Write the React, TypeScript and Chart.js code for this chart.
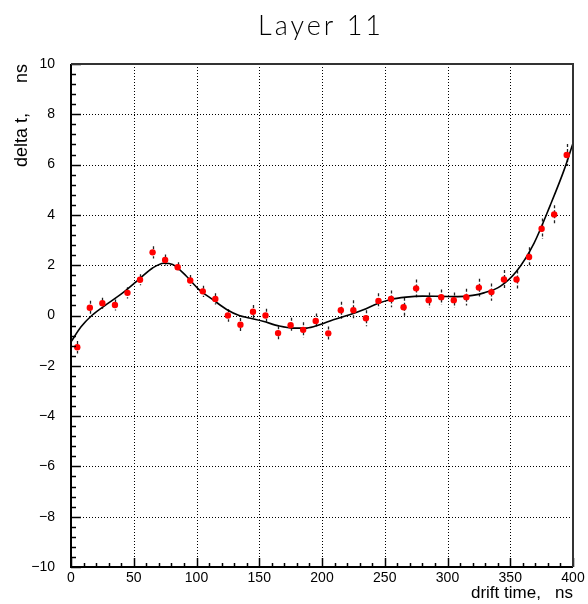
import React, { useEffect, useRef } from "react";
import { Chart, registerables } from "chart.js";

Chart.register(...registerables);

// ---- data ----
const driftTime = [5, 15, 25, 35, 45, 55, 65, 75, 85, 95, 105, 115, 125, 135, 145, 155, 165, 175, 185, 195, 205, 215, 225, 235, 245, 255, 265, 275, 285, 295, 305, 315, 325, 335, 345, 355, 365, 375, 385, 395];
const deltaT = [-1.26, 0.31, 0.49, 0.42, 0.9, 1.42, 2.51, 2.21, 1.92, 1.39, 0.96, 0.66, 0.0, -0.37, 0.15, 0.0, -0.7, -0.39, -0.57, -0.22, -0.71, 0.21, 0.21, -0.11, 0.58, 0.66, 0.33, 1.08, 0.61, 0.73, 0.61, 0.73, 1.11, 0.93, 1.43, 1.43, 2.33, 3.45, 4.02, 6.38];
const deltaTErr = [0.25, 0.28, 0.22, 0.22, 0.22, 0.22, 0.24, 0.22, 0.2, 0.22, 0.22, 0.22, 0.25, 0.27, 0.27, 0.27, 0.27, 0.3, 0.3, 0.3, 0.27, 0.34, 0.4, 0.32, 0.3, 0.33, 0.38, 0.35, 0.3, 0.3, 0.3, 0.33, 0.35, 0.34, 0.38, 0.36, 0.38, 0.41, 0.36, 0.44];
const fitTime = [0, 8, 17, 30, 43, 54, 65, 74, 81, 92, 102, 113, 124, 134, 142, 153, 166, 177, 188, 198, 209, 222, 233, 244, 254, 267, 280, 295, 308, 320, 329, 342, 355, 369, 382, 393, 400];
const fitDelta = [-1.05, -0.45, 0.02, 0.5, 0.97, 1.43, 1.89, 2.08, 2.03, 1.56, 1.03, 0.63, 0.24, 0.0, -0.1, -0.23, -0.42, -0.5, -0.5, -0.37, -0.17, 0.03, 0.23, 0.47, 0.63, 0.73, 0.77, 0.76, 0.75, 0.8, 0.9, 1.16, 1.76, 2.88, 4.4, 5.8, 6.85];
const xTickValues = [0, 50, 100, 150, 200, 250, 300, 350, 400];
const yTickValues = [-10, -8, -6, -4, -2, 0, 2, 4, 6, 8, 10];
const titleText = "Layer 11";
const xTitleText = "drift time,   ns";
const yTitleText = "delta t,      ns";

const X_MIN = 0, X_MAX = 400, Y_MIN = -10, Y_MAX = 10;

const rootStyle = {
  id: "rootStyle",
  beforeDatasetsDraw(chart: any) {
    const { ctx, chartArea, scales } = chart;
    const { left, right, top, bottom } = chartArea;
    const x = scales.x, y = scales.y;
    ctx.save();
    // dotted grid
    ctx.strokeStyle = "#000";
    ctx.lineWidth = 1;
    ctx.setLineDash([1, 2]);
    for (const v of xTickValues) {
      if (v <= X_MIN || v >= X_MAX) continue;
      const px = Math.round(x.getPixelForValue(v)) + 0.5;
      ctx.beginPath();
      ctx.moveTo(px, top);
      ctx.lineTo(px, bottom);
      ctx.stroke();
    }
    for (const v of yTickValues) {
      if (v <= Y_MIN || v >= Y_MAX) continue;
      const py = Math.round(y.getPixelForValue(v)) + 0.5;
      ctx.beginPath();
      ctx.moveTo(left, py);
      ctx.lineTo(right, py);
      ctx.stroke();
    }
    // error bars (dashed, ROOT-like)
    ctx.setLineDash([3, 2]);
    ctx.strokeStyle = "#222";
    ctx.lineWidth = 1.3;
    for (let i = 0; i < driftTime.length; i++) {
      const px = Math.round(x.getPixelForValue(driftTime[i])) + 0.5;
      const y1 = y.getPixelForValue(deltaT[i] - deltaTErr[i]);
      const y2 = y.getPixelForValue(deltaT[i] + deltaTErr[i]);
      ctx.beginPath();
      ctx.moveTo(px, y2);
      ctx.lineTo(px, y1);
      ctx.stroke();
    }
    ctx.setLineDash([]);
    ctx.restore();
  },
  afterDraw(chart: any) {
    const { ctx, chartArea, scales } = chart;
    const { left, right, top, bottom } = chartArea;
    const x = scales.x, y = scales.y;
    ctx.save();
    ctx.strokeStyle = "#000";
    ctx.lineWidth = 1.5;
    // x ticks (inward)
    for (let k = 0; k <= 40; k++) {
      const v = X_MIN + k * 10;
      const major = k % 5 === 0;
      const px = Math.round(x.getPixelForValue(v)) + 0.5;
      const len = major ? 9 : 4;
      ctx.beginPath();
      ctx.moveTo(px, bottom);
      ctx.lineTo(px, bottom - len);
      ctx.stroke();
    }
    // y ticks (inward)
    for (let k = 0; k <= 50; k++) {
      const v = Y_MIN + k * 0.4;
      const major = k % 5 === 0;
      const py = Math.round(y.getPixelForValue(v)) + 0.5;
      const len = major ? 10 : 5;
      ctx.beginPath();
      ctx.moveTo(left, py);
      ctx.lineTo(left + len, py);
      ctx.stroke();
    }
    // frame
    ctx.lineWidth = 2;
    ctx.strokeStyle = "#000";
    ctx.beginPath();
    ctx.moveTo(left, top);
    ctx.lineTo(left, bottom);
    ctx.lineTo(right, bottom);
    ctx.stroke();
    ctx.strokeStyle = "#333";
    ctx.beginPath();
    ctx.moveTo(left, top);
    ctx.lineTo(right, top);
    ctx.lineTo(right, bottom);
    ctx.stroke();
    // title
    ctx.fillStyle = "#000";
    ctx.font = "300 27px Lato, 'Liberation Sans', sans-serif";
    (ctx as any).letterSpacing = "3px";
    ctx.textAlign = "center";
    ctx.textBaseline = "alphabetic";
    ctx.fillText(titleText, (left + right) / 2 - 1, 35);
    ctx.restore();
  },
};

export default function App() {
  const canvasRef = useRef<HTMLCanvasElement | null>(null);

  useEffect(() => {
    const canvas = canvasRef.current;
    if (!canvas) return;
    Chart.defaults.font.family = "'Liberation Sans', Arial, sans-serif";
    Chart.defaults.color = "#000";
    const chart = new Chart(canvas, {
      type: "scatter",
      data: {
        datasets: [
          {
            label: "data",
            data: driftTime.map((t, i) => ({ x: t, y: deltaT[i] })),
            pointRadius: 3.2,
            pointBackgroundColor: "#ff0000",
            pointBorderWidth: 0,
            borderColor: "#ff0000",
            showLine: false,
            order: 0,
          },
          {
            label: "fit",
            data: fitTime.map((t, i) => ({ x: t, y: fitDelta[i] })),
            showLine: true,
            pointRadius: 0,
            borderColor: "#000",
            borderWidth: 1.6,
            cubicInterpolationMode: "monotone",
            fill: false,
            order: 1,
          } as any,
        ],
      },
      options: {
        responsive: false,
        animation: false,
        events: [],
        layout: { padding: { top: 64, right: 15, left: 0, bottom: 0 } },
        plugins: {
          legend: { display: false },
          tooltip: { enabled: false },
          title: { display: false },
        },
        scales: {
          x: {
            type: "linear",
            min: X_MIN,
            max: X_MAX,
            afterFit: (s: any) => { s.height = 37; },
            afterBuildTicks: (s: any) => { s.ticks = xTickValues.map((v) => ({ value: v })); },
            ticks: { font: { size: 14 }, color: "#000", padding: 3, maxRotation: 0, autoSkip: false },
            grid: { display: false, drawTicks: false },
            border: { display: false },
            title: { display: true, text: xTitleText, align: "end", font: { size: 17 }, color: "#000", padding: { top: 0, bottom: 0 } },
          },
          y: {
            type: "linear",
            min: Y_MIN,
            max: Y_MAX,
            afterFit: (s: any) => { s.width = 71; },
            afterBuildTicks: (s: any) => { s.ticks = yTickValues.map((v) => ({ value: v })); },
            ticks: {
              font: { size: 14 },
              color: "#000",
              padding: 16,
              callback: (v: any) => (Number(v) < 0 ? "\u2212" + Math.abs(Number(v)) : String(v)),
            },
            grid: { display: false, drawTicks: false },
            border: { display: false },
            title: { display: true, text: yTitleText, align: "end", font: { size: 18 }, color: "#000", padding: { top: 11, bottom: 0 } },
          },
        },
      },
      plugins: [rootStyle],
    });
    return () => chart.destroy();
  }, []);

  return (
    <div style={{ position: "absolute", left: 0, top: 0, width: 588, height: 604, background: "#fff" }}>
      <canvas ref={canvasRef} width={588} height={604} style={{ display: "block" }} />
    </div>
  );
}
